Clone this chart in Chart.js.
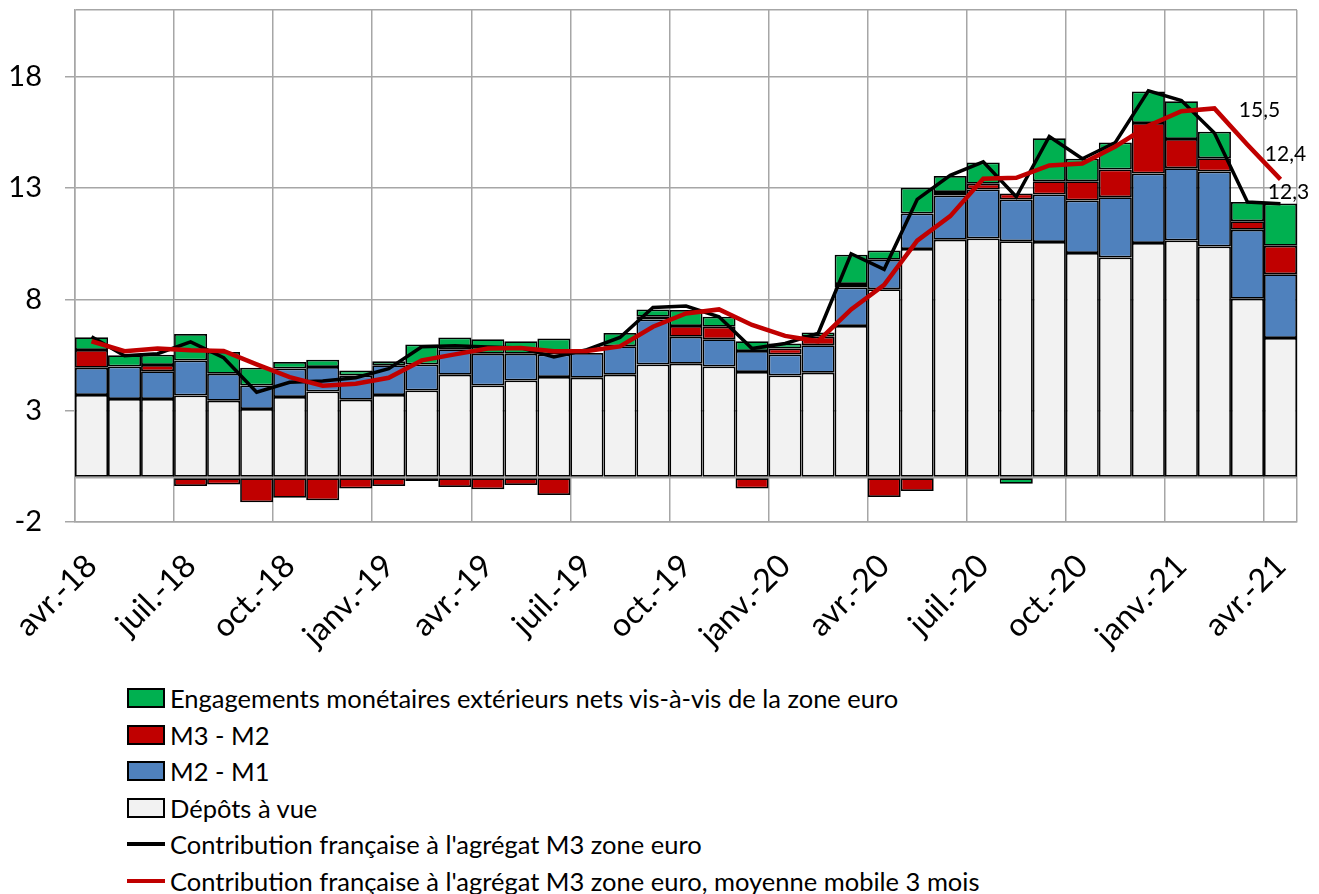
<!DOCTYPE html>
<html lang="fr">
<head>
<meta charset="utf-8">
<title>Contribution française à M3</title>
<script src="https://cdn.jsdelivr.net/npm/chart.js@4.4.1/dist/chart.umd.min.js"></script>
<style>
  body { margin: 0; background: #fff; overflow: hidden; }
  #wrap { position: relative; width: 1319px; height: 894px; }
  #legend { position: absolute; left: 127px; top: 680px; font-family: Lato, sans-serif; font-size: 25.5px; color: #000; }
  .legend-item { display: flex; align-items: center; height: 36.5px; white-space: nowrap; }
  .legend-box { width: 34px; height: 16px; border: 2px solid #000; margin-right: 5px; }
  .legend-line { width: 38px; height: 4px; margin-right: 5px; }
</style>
</head>
<body>
<div id="wrap">
  <canvas id="m3Chart" width="1319" height="680"></canvas>
  <div id="legend"></div>
</div>
<script>
const months = ['avr.-18','mai-18','juin-18','juil.-18','août-18','sept.-18','oct.-18','nov.-18','déc.-18',
  'janv.-19','févr.-19','mars-19','avr.-19','mai-19','juin-19','juil.-19','août-19','sept.-19','oct.-19','nov.-19','déc.-19',
  'janv.-20','févr.-20','mars-20','avr.-20','mai-20','juin-20','juil.-20','août-20','sept.-20','oct.-20','nov.-20','déc.-20',
  'janv.-21','févr.-21','mars-21','avr.-21']

const depotsAVue = [3.71, 3.52, 3.52, 3.68, 3.45, 3.08, 3.61, 3.86, 3.49, 3.71, 3.91, 4.61, 4.13, 4.36, 4.51, 4.48, 4.61, 5.07, 5.11,
  4.99, 4.74, 4.58, 4.71, 6.80, 8.45, 10.26, 10.68, 10.73, 10.61, 10.58, 10.08, 9.88, 10.53, 10.65, 10.38, 8.03, 6.27]
const m2m1 = [1.22, 1.47, 1.25, 1.58, 1.21, 1.05, 1.28, 1.10, 1.09, 1.33, 1.16, 1.15, 1.43, 1.20, 1.02, 1.11, 1.28, 2.03, 1.21,
  1.22, 0.94, 0.95, 1.23, 1.73, 1.33, 1.60, 1.99, 2.21, 1.88, 2.13, 2.36, 2.71, 3.12, 3.24, 3.36, 3.10, 2.86]
const m3m2 = [0.80, 0, 0.28, -0.38, -0.31, -1.11, -0.91, -1.02, -0.50, -0.38, -0.16, -0.43, -0.53, -0.34, -0.79, 0, -0.05, 0.12, 0.49,
  0.56, -0.49, 0.26, 0.38, 0.16, -0.88, -0.61, 0.15, 0.26, 0.27, 0.60, 0.87, 1.25, 2.27, 1.31, 0.60, 0.38, 1.28]
const engagements = [0.57, 0.50, 0.46, 1.18, 0.98, 0.80, 0.30, 0.33, 0.23, 0.18, 0.90, 0.53, 0.65, 0.56, 0.71, 0, 0.60, 0.33, 0.71,
  0.45, 0.44, 0.23, 0.19, 1.31, 0.42, 1.16, 0.72, 0.95, -0.28, 1.93, 1.01, 1.21, 1.42, 1.70, 1.19, 0.86, 1.90]
const contribM3 = [6.32, 5.47, 5.56, 6.09, 5.38, 3.83, 4.28, 4.33, 4.48, 4.89, 5.87, 5.92, 5.86, 5.82, 5.41, 5.74, 6.29, 7.64, 7.70,
  7.22, 5.79, 6.02, 6.47, 10.05, 9.35, 12.49, 13.57, 14.18, 12.61, 15.32, 14.32, 15.05, 17.37, 16.93, 15.47, 12.37, 12.30]
const contribM3Mm3 = [6.12, 5.67, 5.79, 5.71, 5.68, 5.08, 4.51, 4.12, 4.21, 4.48, 5.26, 5.53, 5.79, 5.82, 5.67, 5.68, 5.89, 6.77, 7.37,
  7.55, 6.85, 6.36, 6.12, 7.55, 8.65, 10.64, 11.74, 13.42, 13.46, 14.02, 14.10, 14.87, 15.80, 16.45, 16.58, 14.95, 13.39]

const yTicks = [-2, 3, 8, 13, 18]

// last three values written next to the black line
const endLabels = [
  { text: '15,5', index: 34, dx: 45, dy: -23 },
  { text: '12,4', index: 35, dx: 38, dy: -48 },
  { text: '12,3', index: 36, dx: 8, dy: -11 }
]

const gridGrey = '#a6a6a6'
const fontFamily = 'Lato, sans-serif'

const barSet = (label, data, color, order) => ({
  type: 'bar',
  label: label,
  data: data,
  backgroundColor: color,
  borderColor: '#000',
  borderWidth: 1.75,
  borderSkipped: false,
  inflateAmount: 0,
  stack: 'bars',
  order: order,
  categoryPercentage: 1,
  barPercentage: 1
})

const endLabelsPlugin = {
  id: 'endLabels',
  afterDatasetsDraw(chart) {
    const meta = chart.getDatasetMeta(1)
    const ctx = chart.ctx
    ctx.save()
    ctx.font = '21px ' + fontFamily
    ctx.fillStyle = '#000'
    ctx.textAlign = 'center'
    ctx.textBaseline = 'middle'
    endLabels.forEach(l => {
      const pt = meta.data[l.index]
      ctx.fillText(l.text, pt.x + l.dx, pt.y + l.dy)
    })
    ctx.restore()
  }
}

const ctxM3 = document.getElementById('m3Chart').getContext('2d')
const m3Chart = new Chart(ctxM3, {
  data: {
    labels: months,
    datasets: [
      {
        type: 'line',
        label: "Contribution française à l'agrégat M3 zone euro, moyenne mobile 3 mois",
        data: contribM3Mm3,
        borderColor: '#c00000',
        borderWidth: 4.5,
        pointRadius: 0,
        tension: 0,
        stack: 'mm3',
        order: 0
      },
      {
        type: 'line',
        label: "Contribution française à l'agrégat M3 zone euro",
        data: contribM3,
        borderColor: '#000',
        borderWidth: 3.5,
        pointRadius: 0,
        tension: 0,
        stack: 'm3',
        order: 1
      },
      barSet('Dépôts à vue', depotsAVue, '#f2f2f2', 2),
      barSet('M2 - M1', m2m1, '#4f81bd', 3),
      barSet('M3 - M2', m3m2, '#c00000', 4),
      barSet('Engagements monétaires extérieurs nets vis-à-vis de la zone euro', engagements, '#00b050', 5)
    ]
  },
  options: {
    responsive: false,
    animation: false,
    layout: { padding: { top: 10, right: 22, left: 0, bottom: 0 } },
    plugins: {
      legend: { display: false },
      tooltip: { enabled: false }
    },
    scales: {
      x: {
        stacked: true,
        offset: true,
        afterFit: (scale) => {
          scale.height = 158
          scale.paddingLeft = 0
          scale.paddingRight = 0
        },
        grid: {
          offset: true,
          drawTicks: false,
          lineWidth: 1.5,
          color: (c) => (c.type === 'scale' || c.index % 3 === 0) ? gridGrey : 'rgba(0,0,0,0)'
        },
        border: { display: true, color: gridGrey, width: 1.5 },
        ticks: {
          autoSkip: false,
          maxRotation: 45,
          minRotation: 45,
          padding: 25,
          color: '#000',
          font: { family: fontFamily, size: 32 },
          callback: (v, i) => i % 3 === 0 ? months[i] : ''
        }
      },
      y: {
        stacked: true,
        min: -2,
        max: 21,
        afterBuildTicks: (scale) => {
          scale.ticks = [-2, 0, 3, 8, 13, 18, 21].map(v => ({ value: v }))
        },
        afterFit: (scale) => {
          scale.width = 75
          scale.paddingTop = 0
          scale.paddingBottom = 0
        },
        grid: {
          lineWidth: 1.5,
          tickLength: 10,
          color: gridGrey,
          tickColor: (c) => (c.tick && yTicks.includes(c.tick.value)) ? gridGrey : 'rgba(0,0,0,0)'
        },
        border: { display: true, color: gridGrey, width: 1.5 },
        ticks: {
          padding: 23,
          color: '#000',
          font: { family: fontFamily, size: 29 },
          callback: (v) => yTicks.includes(v) ? String(v) : ''
        }
      }
    }
  },
  plugins: [endLabelsPlugin]
})

// legend in the same order as the original figure
const legendOrder = [5, 4, 3, 2, 1, 0]
const legendDiv = document.getElementById('legend')
legendOrder.forEach(i => {
  const ds = m3Chart.data.datasets[i]
  const item = document.createElement('div')
  item.className = 'legend-item'
  const mark = document.createElement('span')
  if (ds.type === 'bar') {
    mark.className = 'legend-box'
    mark.style.background = ds.backgroundColor
  } else {
    mark.className = 'legend-line'
    mark.style.background = ds.borderColor
  }
  const txt = document.createElement('span')
  txt.textContent = ds.label
  item.appendChild(mark)
  item.appendChild(txt)
  legendDiv.appendChild(item)
})
</script>
</body>
</html>
